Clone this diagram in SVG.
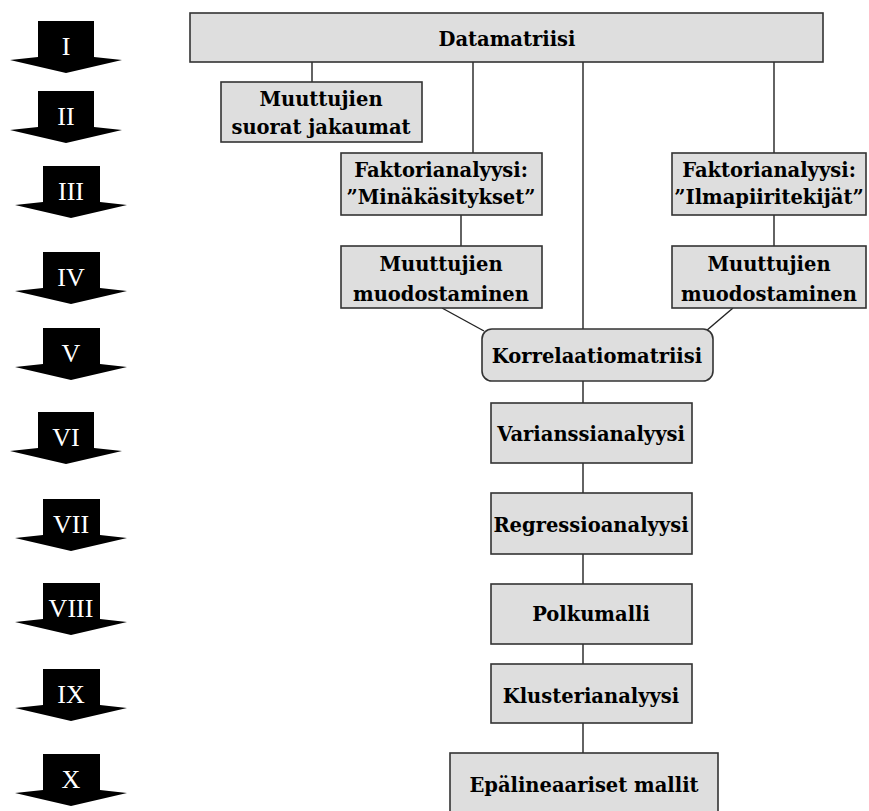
<svg xmlns="http://www.w3.org/2000/svg" width="869" height="811" viewBox="0 0 869 811">
<defs>
<style>
.box{fill:#dedede;stroke:#333;stroke-width:1.6}
.t{font-family:"DejaVu Serif",serif;font-weight:bold;font-size:19.5px;fill:#000;text-anchor:middle}
.c{stroke:#222;stroke-width:1.4;fill:none}
.ar{fill:#000}
.n{font-family:"Liberation Serif",serif;font-size:26px;fill:#fff;text-anchor:middle}
</style>
</defs>
<rect width="869" height="811" fill="#fff"/>
<g id="connectors">
<line class="c" x1="312" y1="62" x2="312" y2="82"/>
<line class="c" x1="473" y1="62" x2="473" y2="153"/>
<line class="c" x1="583" y1="62" x2="583" y2="329"/>
<line class="c" x1="774" y1="62" x2="774" y2="153"/>
<line class="c" x1="461" y1="215" x2="461" y2="246"/>
<line class="c" x1="774" y1="215" x2="774" y2="246"/>
<line class="c" x1="442" y1="308" x2="484" y2="331"/>
<line class="c" x1="733" y1="308" x2="706" y2="331"/>
<line class="c" x1="583" y1="381" x2="583" y2="403"/>
<line class="c" x1="583" y1="463" x2="583" y2="493"/>
<line class="c" x1="583" y1="554" x2="583" y2="584"/>
<line class="c" x1="583" y1="644" x2="583" y2="664"/>
<line class="c" x1="583" y1="723" x2="583" y2="753"/>
</g>
<g id="arrows">
<g id="a1"><polygon class="ar" points="38,21 94,21 94,57 122,60 66,73 10,60 38,57"/><text class="n" x="66" y="55">I</text></g>
<g id="a2"><polygon class="ar" points="38,91 94,91 94,127 122,130 66,143 10,130 38,127"/><text class="n" x="66" y="125">II</text></g>
<g id="a3"><polygon class="ar" points="43,166 100,166 100,202 127,205 71,218 15,205 43,202"/><text class="n" x="71" y="200">III</text></g>
<g id="a4"><polygon class="ar" points="43,252 100,252 100,288 127,291 71,304 15,291 43,288"/><text class="n" x="71" y="286">IV</text></g>
<g id="a5"><polygon class="ar" points="43,328 100,328 100,364 127,367 71,380 15,367 43,364"/><text class="n" x="71" y="362">V</text></g>
<g id="a6"><polygon class="ar" points="38,412 94,412 94,448 122,451 66,464 10,451 38,448"/><text class="n" x="66" y="446">VI</text></g>
<g id="a7"><polygon class="ar" points="43,499 100,499 100,535 127,538 71,551 15,538 43,535"/><text class="n" x="71" y="533">VII</text></g>
<g id="a8"><polygon class="ar" points="43,583 100,583 100,619 127,622 71,635 15,622 43,619"/><text class="n" x="71" y="617">VIII</text></g>
<g id="a9"><polygon class="ar" points="43,669 100,669 100,705 127,708 71,721 15,708 43,705"/><text class="n" x="71" y="703">IX</text></g>
<g id="a10"><polygon class="ar" points="43,754 100,754 100,790 127,793 71,806 15,793 43,790"/><text class="n" x="71" y="788">X</text></g>
</g>
<g id="datamatriisi"><rect class="box" x="190" y="13" width="633" height="49"/><text class="t" x="507" y="46">Datamatriisi</text></g>
<g id="suorat"><rect class="box" x="221" y="82" width="201" height="60"/><text class="t" x="321" y="106">Muuttujien</text><text class="t" x="321" y="134">suorat jakaumat</text></g>
<g id="fakt1"><rect class="box" x="341" y="153" width="201" height="62"/><text class="t" x="441" y="177">Faktorianalyysi:</text><text class="t" x="441" y="204">”Minäkäsitykset”</text></g>
<g id="fakt2"><rect class="box" x="672" y="153" width="194" height="62"/><text class="t" x="769" y="177">Faktorianalyysi:</text><text class="t" x="769" y="204">”Ilmapiiritekijät”</text></g>
<g id="muod1"><rect class="box" x="341" y="246" width="201" height="62"/><text class="t" x="441" y="271">Muuttujien</text><text class="t" x="441" y="301">muodostaminen</text></g>
<g id="muod2"><rect class="box" x="672" y="246" width="194" height="62"/><text class="t" x="769" y="271">Muuttujien</text><text class="t" x="769" y="301">muodostaminen</text></g>
<g id="korrelaatio"><rect class="box" x="482" y="329" width="231" height="52" rx="10"/><text class="t" x="597" y="363">Korrelaatiomatriisi</text></g>
<g id="varianssi"><rect class="box" x="491" y="403" width="201" height="60"/><text class="t" x="591" y="441">Varianssianalyysi</text></g>
<g id="regressio"><rect class="box" x="491" y="493" width="201" height="61"/><text class="t" x="591" y="532">Regressioanalyysi</text></g>
<g id="polku"><rect class="box" x="491" y="584" width="201" height="60"/><text class="t" x="591" y="621">Polkumalli</text></g>
<g id="klusteri"><rect class="box" x="491" y="664" width="201" height="59"/><text class="t" x="591" y="703">Klusterianalyysi</text></g>
<g id="epalin"><rect class="box" x="450" y="753" width="268" height="60"/><text class="t" x="584" y="792">Epälineaariset mallit</text></g>
</svg>
